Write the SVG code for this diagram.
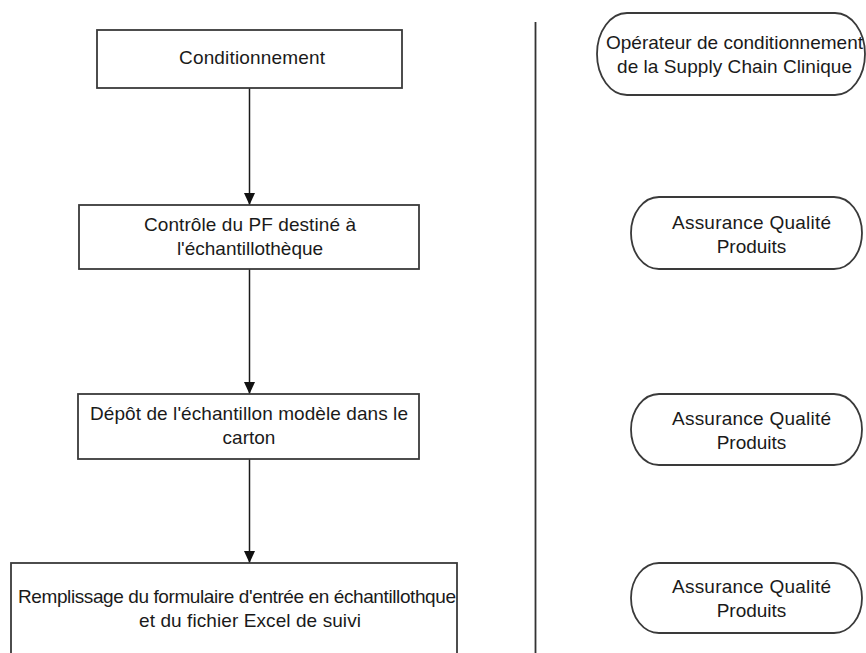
<svg xmlns="http://www.w3.org/2000/svg" width="866" height="653" viewBox="0 0 866 653">
<style>
.box{fill:#fff;stroke:#3a3a3a;stroke-width:1.8}
.t{font-family:"Liberation Sans",Arial,sans-serif;font-size:19px;fill:#1a1a1a;text-anchor:middle}
.c{stroke:#1a1a1a;stroke-width:1.5;fill:none}
</style>
<defs>
<marker id="ah" markerUnits="userSpaceOnUse" markerWidth="12" markerHeight="12" viewBox="0 0 12 12" refX="12" refY="6" orient="auto">
<path d="M0,0.5 L12,6 L0,11.5 z" fill="#111"/>
</marker>
</defs>
<rect width="866" height="653" fill="#fff"/>
<g id="connectors">
<line class="c" x1="249.5" y1="88" x2="249.5" y2="205" marker-end="url(#ah)"/>
<line class="c" x1="249.5" y1="269" x2="249.5" y2="394" marker-end="url(#ah)"/>
<line class="c" x1="249.5" y1="459" x2="249.5" y2="563" marker-end="url(#ah)"/>
<line x1="535.5" y1="22" x2="535.5" y2="653" stroke="#333" stroke-width="1.8"/>
</g>
<g id="n1">
<rect class="box" x="97" y="30" width="305" height="58"/>
<text class="t" x="252" y="64" textLength="146">Conditionnement</text>
</g>
<g id="n2">
<rect class="box" x="79" y="205" width="340" height="64"/>
<text class="t" x="250" y="231" textLength="212">Contrôle du PF destiné à</text>
<text class="t" x="250" y="255">l'échantillothèque</text>
</g>
<g id="n3">
<rect class="box" x="78" y="394" width="341" height="65"/>
<text class="t" x="249" y="420" textLength="318">Dépôt de l'échantillon modèle dans le</text>
<text class="t" x="249" y="444">carton</text>
</g>
<g id="n4">
<rect class="box" x="11" y="563" width="446" height="110"/>
<text class="t" x="237" y="603" textLength="438">Remplissage du formulaire d'entrée en échantillothque</text>
<text class="t" x="250" y="627" textLength="222">et du fichier Excel de suivi</text>
</g>
<g id="r1">
<rect class="box" x="597" y="13" width="268" height="82" rx="30" ry="41"/>
<text class="t" x="734.5" y="49" textLength="257">Opérateur de conditionnement</text>
<text class="t" x="734.5" y="73" textLength="235">de la Supply Chain Clinique</text>
</g>
<g id="r2">
<rect class="box" x="631" y="197" width="231" height="72" rx="28" ry="36"/>
<text class="t" x="751.5" y="229" textLength="159">Assurance Qualité</text>
<text class="t" x="751.5" y="253">Produits</text>
</g>
<g id="r3">
<rect class="box" x="631" y="394" width="231" height="71" rx="28" ry="35.5"/>
<text class="t" x="751.5" y="425" textLength="159">Assurance Qualité</text>
<text class="t" x="751.5" y="449">Produits</text>
</g>
<g id="r4">
<rect class="box" x="631" y="563" width="231" height="70" rx="28" ry="35"/>
<text class="t" x="751.5" y="593" textLength="159">Assurance Qualité</text>
<text class="t" x="751.5" y="617">Produits</text>
</g>
</svg>
